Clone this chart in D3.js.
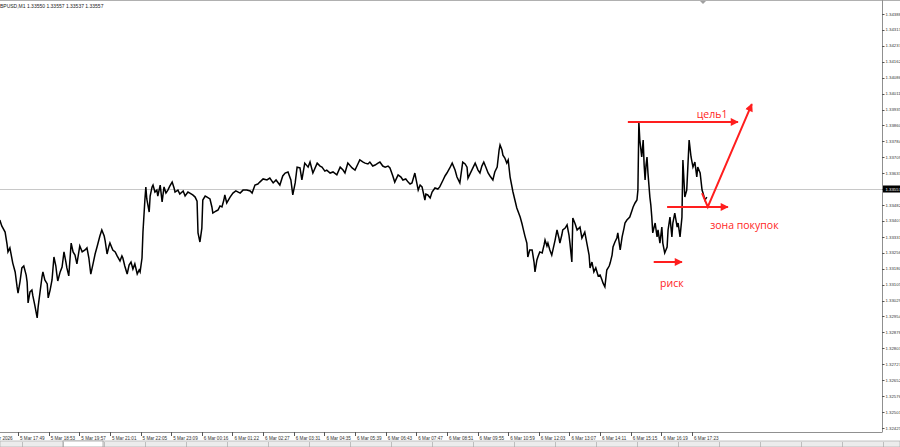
<!DOCTYPE html>
<html>
<head>
<meta charset="utf-8">
<script src="https://cdn.jsdelivr.net/npm/d3@7"></script>
<style>
  body { margin: 0; background: #fff; }
  svg { display: block; }
</style>
</head>
<body>
<svg id="svg1" width="900" height="447"></svg>
<script>
// GBPUSD M1 — [bar index, price]
var quotes = [
  [26,1.33411],[30,1.33383],[37,1.33354],[41,1.33297],[43,1.33260],[47,1.33279],[53,1.33207],[58,1.33165],
  [62,1.33094],[64,1.33065],[68,1.33117],[72,1.33184],[76,1.33193],[81,1.33150],[83,1.33117],[85,1.33018],
  [89,1.33070],[93,1.33079],[95,1.33051],[99,1.33008],[104,1.32947],[106,1.32999],[110,1.33070],[114,1.33141],
  [116,1.33165],[120,1.33127],[125,1.33108],[127,1.33042],[131,1.33079],[135,1.33127],[139,1.33236],[143,1.33193],
  [145,1.33155],[147,1.33122],[152,1.33165],[156,1.33188],[160,1.33260],[164,1.33212],[166,1.33184],[170,1.33146],
  [175,1.33302],[179,1.33260],[183,1.33245],[187,1.33203],[191,1.33260],[193,1.33288],[198,1.33260],[204,1.33269],
  [208,1.33279],[212,1.33231],[216,1.33155],[221,1.33207],[225,1.33250],[229,1.33283],[235,1.33335],[239,1.33364],
  [244,1.33335],[246,1.33312],[250,1.33250],[254,1.33288],[256,1.33302],[262,1.33269],[267,1.33260],[271,1.33241],
  [277,1.33217],[281,1.33241],[283,1.33231],[287,1.33193],[292,1.33155],[296,1.33198],[300,1.33212],[304,1.33179],
  [308,1.33203],[313,1.33155],[317,1.33174],[319,1.33165],[323,1.33231],[325,1.33354],[329,1.33506],[331,1.33568],
  [333,1.33511],[338,1.33449],[340,1.33525],[344,1.33568],[346,1.33577],[350,1.33544],[354,1.33553],[356,1.33525],
  [361,1.33577],[365,1.33497],[369,1.33568],[373,1.33539],[377,1.33553],[381,1.33572],[386,1.33591],[390,1.33563],
  [392,1.33544],[398,1.33553],[402,1.33534],[409,1.33549],[413,1.33525],[419,1.33544],[423,1.33539],[429,1.33530],
  [434,1.33520],[438,1.33501],[440,1.33350],[444,1.33307],[448,1.33373],[450,1.33506],[455,1.33525],[459,1.33520],
  [465,1.33511],[469,1.33473],[471,1.33444],[478,1.33454],[482,1.33459],[486,1.33478],[490,1.33473],[494,1.33506],
  [496,1.33530],[500,1.33492],[507,1.33520],[513,1.33539],[519,1.33549],[528,1.33539],[534,1.33553],[542,1.33553],
  [549,1.33549],[553,1.33539],[559,1.33577],[565,1.33582],[569,1.33591],[576,1.33606],[584,1.33601],[590,1.33610],
  [597,1.33587],[603,1.33601],[611,1.33577],[617,1.33620],[622,1.33634],[628,1.33639],[634,1.33601],[638,1.33530],
  [643,1.33587],[647,1.33662],[653,1.33658],[657,1.33601],[663,1.33681],[670,1.33662],[674,1.33686],[680,1.33634],
  [689,1.33681],[695,1.33667],[699,1.33662],[705,1.33643],[709,1.33648],[716,1.33634],[722,1.33639],[730,1.33625],
  [737,1.33662],[743,1.33648],[747,1.33634],[753,1.33681],[762,1.33658],[768,1.33648],[774,1.33677],[778,1.33696],
  [785,1.33686],[789,1.33681],[795,1.33677],[799,1.33686],[805,1.33667],[810,1.33672],[816,1.33681],[820,1.33686],
  [826,1.33667],[831,1.33662],[837,1.33667],[841,1.33658],[847,1.33620],[851,1.33591],[858,1.33625],[864,1.33615],
  [868,1.33601],[874,1.33606],[879,1.33591],[883,1.33582],[887,1.33587],[893,1.33634],[900,1.33553],[904,1.33577],
  [908,1.33568],[914,1.33506],[916,1.33534],[920,1.33530],[925,1.33516],[929,1.33544],[935,1.33563],[941,1.33558],
  [945,1.33568],[952,1.33601],[956,1.33620],[960,1.33634],[966,1.33658],[971,1.33681],[977,1.33648],[981,1.33615],
  [987,1.33587],[993,1.33686],[998,1.33677],[1002,1.33662],[1004,1.33610],[1008,1.33629],[1012,1.33648],[1019,1.33681],
  [1025,1.33648],[1029,1.33634],[1033,1.33667],[1037,1.33686],[1042,1.33658],[1046,1.33634],[1050,1.33620],[1056,1.33601],
  [1060,1.33639],[1065,1.33662],[1069,1.33743],[1071,1.33767],[1075,1.33743],[1077,1.33719],[1081,1.33705],[1085,1.33681],
  [1088,1.33696],[1092,1.33615],[1098,1.33544],[1102,1.33506],[1106,1.33468],[1113,1.33425],[1117,1.33392],[1119,1.33373],
  [1123,1.33335],[1127,1.33302],[1129,1.33236],[1133,1.33269],[1138,1.33269],[1142,1.33212],[1144,1.33165],[1148,1.33222],
  [1150,1.33236],[1154,1.33260],[1159,1.33255],[1163,1.33293],[1165,1.33316],[1169,1.33288],[1171,1.33302],[1175,1.33269],
  [1179,1.33245],[1186,1.33316],[1190,1.33364],[1194,1.33326],[1196,1.33302],[1200,1.33340],[1202,1.33364],[1207,1.33373],
  [1211,1.33388],[1215,1.33340],[1217,1.33302],[1221,1.33212],[1223,1.33421],[1228,1.33392],[1232,1.33364],[1238,1.33378],
  [1242,1.33326],[1248,1.33354],[1253,1.33293],[1257,1.33245],[1259,1.33184],[1263,1.33212],[1267,1.33165],[1271,1.33184],
  [1276,1.33146],[1280,1.33150],[1284,1.33127],[1286,1.33113],[1290,1.33094],[1294,1.33174],[1299,1.33193],[1301,1.33207],
  [1305,1.33245],[1307,1.33283],[1311,1.33307],[1315,1.33326],[1317,1.33350],[1322,1.33269],[1326,1.33331],[1330,1.33373],
  [1332,1.33397],[1336,1.33411],[1342,1.33425],[1347,1.33459],[1349,1.33473],[1353,1.33492],[1357,1.33506],[1359,1.33553],
  [1361,1.33876],[1363,1.33790],[1367,1.33710],[1370,1.33790],[1372,1.33672],[1374,1.33601],[1376,1.33672],[1378,1.33710],
  [1380,1.33634],[1384,1.33520],[1386,1.33482],[1388,1.33425],[1390,1.33350],[1395,1.33397],[1399,1.33331],[1401,1.33364],
  [1405,1.33302],[1409,1.33378],[1411,1.33302],[1415,1.33255],[1420,1.33283],[1422,1.33364],[1426,1.33425],[1430,1.33331],
  [1432,1.33397],[1436,1.33444],[1441,1.33378],[1443,1.33397],[1447,1.33331],[1451,1.33425],[1453,1.33696],[1457,1.33520],
  [1461,1.33553],[1466,1.33790],[1470,1.33710],[1474,1.33662],[1478,1.33686],[1482,1.33615],[1484,1.33662],[1489,1.33634],
  [1493,1.33553],[1495,1.33539],[1499,1.33506],[1503,1.33520]
];

var priceTicks = [
  1.34388, 1.34313, 1.34237, 1.34162, 1.34086, 1.34011, 1.33935, 1.33860, 1.33784,
  1.33709, 1.33633, 1.33558, 1.33482, 1.33407, 1.33331, 1.33256, 1.33180, 1.33105,
  1.33029, 1.32954, 1.32878, 1.32803, 1.32727, 1.32652, 1.32576, 1.32501, 1.32425
];

var timeLabels = [
  "5 Mar 2026", "5 Mar 17:49", "5 Mar 18:53", "5 Mar 19:57", "5 Mar 21:01", "5 Mar 22:05",
  "5 Mar 23:09", "6 Mar 00:16", "6 Mar 01:22", "6 Mar 02:27", "6 Mar 03:31", "6 Mar 04:35",
  "6 Mar 05:39", "6 Mar 06:43", "6 Mar 07:47", "6 Mar 08:51", "6 Mar 09:55", "6 Mar 10:59",
  "6 Mar 12:03", "6 Mar 13:07", "6 Mar 14:11", "6 Mar 15:15", "6 Mar 16:19", "6 Mar 17:23"
];
var barsPerLabel = 64;

var header = "BPUSD,M1  1.33550 1.33557 1.33537 1.33557";
var lastPrice = 1.33557;

// trade idea annotations, [bar, price]
var targetArrow = [[1338, 1.33876], [1568, 1.33876]];
var entryArrow = [[1493, 1.33539], [1505, 1.33473], [1597, 1.33961]];
var zoneArrow = [[1420, 1.33473], [1547, 1.33473]];
var riskArrow = [[1392, 1.33212], [1451, 1.33212]];
var notes = [
  { text: "цель1", at: [1514, 1.33876], dy: -4, anchor: "middle" },
  { text: "зона покупок", at: [1510, 1.33473], dy: 22, anchor: "start" },
  { text: "риск", at: [1430, 1.33212], dy: 25, anchor: "middle" }
];

var svg = d3.select("#svg1"),
  plotRight = 882,
  plotBottom = 432;

var xScale = d3.scaleLinear().domain([0, 1472]).range([-12.6, 692]),
  yScale = d3.scaleLinear().domain([1.32425, 1.34388]).range([428, 14]);

var red = "#ff1e1e";
var axisFont = "'Liberation Sans', Arial, sans-serif";

var defs = svg.append("defs");
defs.append("clipPath").attr("id", "plot")
  .append("rect").attr("x", 0).attr("y", 0).attr("width", plotRight).attr("height", plotBottom);

defs.append("marker")
  .attr("id", "head")
  .attr("viewBox", "0 0 10 10")
  .attr("refX", 9).attr("refY", 5)
  .attr("markerWidth", 10).attr("markerHeight", 8)
  .attr("markerUnits", "userSpaceOnUse")
  .attr("orient", "auto")
  .append("path").attr("d", "M0,0 L10,5 L0,10 z").attr("fill", red);

// frame
svg.append("line").attr("x1", 0).attr("x2", 900).attr("y1", 0.5).attr("y2", 0.5)
  .style("stroke", "#b0b0b0");
svg.append("line").attr("x1", plotRight + 0.5).attr("x2", plotRight + 0.5).attr("y1", 0).attr("y2", plotBottom)
  .style("stroke", "#909090");
svg.append("line").attr("x1", 0).attr("x2", plotRight + 0.5).attr("y1", plotBottom + 0.5).attr("y2", plotBottom + 0.5)
  .style("stroke", "#909090");

// shift marker at top
svg.append("path").attr("d", "M700,1 L706,1 L703,4 z").style("fill", "#a0a0a0");

// header
svg.append("text")
  .attr("x", 0).attr("y", 8)
  .style("font-family", axisFont).style("font-size", "5px").style("fill", "#222")
  .text(header);

// current price line
svg.append("line")
  .attr("x1", 0).attr("x2", plotRight)
  .attr("y1", Math.round(yScale(lastPrice)) + 0.5).attr("y2", Math.round(yScale(lastPrice)) + 0.5)
  .style("stroke", "#c8c8c8");

// price axis
var pAxis = svg.append("g");
pAxis.selectAll("line").data(priceTicks).enter().append("line")
  .attr("x1", plotRight).attr("x2", plotRight + 2.5)
  .attr("y1", function (d) { return Math.round(yScale(d)) + 0.5; })
  .attr("y2", function (d) { return Math.round(yScale(d)) + 0.5; })
  .style("stroke", "#555");
pAxis.selectAll("text").data(priceTicks).enter().append("text")
  .attr("x", plotRight + 3.5)
  .attr("y", function (d) { return yScale(d) + 1.6; })
  .style("font-family", axisFont).style("font-size", "4.3px").style("fill", "#333")
  .text(function (d) { return d.toFixed(5); });

// time axis
var tAxis = svg.append("g");
tAxis.selectAll("line").data(timeLabels).enter().append("line")
  .attr("x1", function (d, i) { return Math.round(xScale(i * barsPerLabel)) + 0.5; })
  .attr("x2", function (d, i) { return Math.round(xScale(i * barsPerLabel)) + 0.5; })
  .attr("y1", plotBottom).attr("y2", plotBottom + 4)
  .style("stroke", "#555");
tAxis.selectAll("text").data(timeLabels).enter().append("text")
  .attr("x", function (d, i) { return xScale(i * barsPerLabel) + 2; })
  .attr("y", plotBottom + 7.5)
  .style("font-family", axisFont).style("font-size", "4.6px").style("fill", "#333")
  .text(function (d) { return d; });

// bottom tab strip
svg.append("rect").attr("x", 0).attr("y", 441).attr("width", 900).attr("height", 6)
  .style("fill", "#ececec").style("stroke", "#a0a0a0").style("stroke-width", 0.6);
svg.append("rect").attr("x", 63).attr("y", 441).attr("width", 40).attr("height", 6)
  .style("fill", "#fff").style("stroke", "#808080").style("stroke-width", 0.6);
svg.append("g").selectAll("line").data(d3.range(22, 900, 41)).enter().append("line")
  .attr("x1", function (d) { return d + 0.5; }).attr("x2", function (d) { return d + 0.5; })
  .attr("y1", 442).attr("y2", 447)
  .style("stroke", "#a0a0a0").style("stroke-width", 0.6);

// price line
var line = d3.line()
  .x(function (d) { return xScale(d[0]); })
  .y(function (d) { return yScale(d[1]); });

svg.append("path")
  .datum(quotes)
  .attr("clip-path", "url(#plot)")
  .attr("d", line)
  .style("fill", "none")
  .style("stroke", "#000")
  .style("stroke-width", "1.5");

// current price label
var ly = Math.round(yScale(lastPrice));
svg.append("rect").attr("x", plotRight + 1).attr("y", ly - 3.5).attr("width", 18).attr("height", 7)
  .style("fill", "#000");
svg.append("text")
  .attr("x", plotRight + 3.5).attr("y", ly + 1.6)
  .style("font-family", axisFont).style("font-size", "4.3px").style("fill", "#fff")
  .text(lastPrice.toFixed(5));

// annotations
[targetArrow, entryArrow, zoneArrow, riskArrow].forEach(function (pts) {
  svg.append("path")
    .datum(pts)
    .attr("d", line)
    .attr("marker-end", "url(#head)")
    .style("fill", "none")
    .style("stroke", red)
    .style("stroke-width", "2");
});

svg.append("g").selectAll("text").data(notes).enter().append("text")
  .attr("x", function (d) { return xScale(d.at[0]); })
  .attr("y", function (d) { return yScale(d.at[1]) + d.dy; })
  .attr("text-anchor", function (d) { return d.anchor; })
  .style("font-family", "'Open Sans', 'Liberation Sans', sans-serif")
  .style("font-size", "10.5px")
  .style("fill", red)
  .text(function (d) { return d.text; });
</script>
</body>
</html>
